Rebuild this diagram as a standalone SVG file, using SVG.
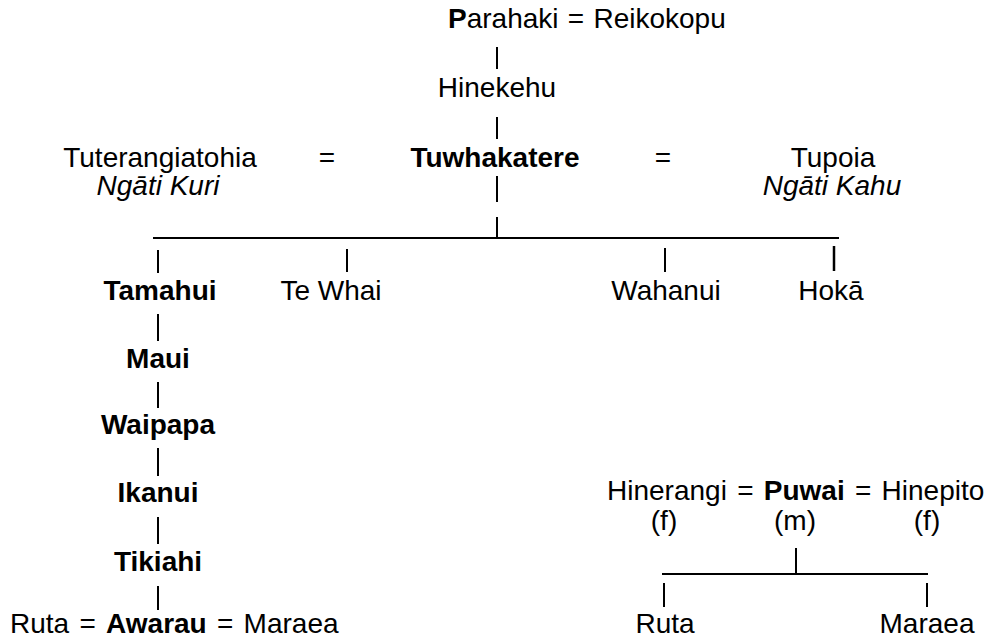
<svg xmlns="http://www.w3.org/2000/svg" width="989" height="641" viewBox="0 0 989 641">
<style>
text{font-family:"Liberation Sans",Arial,sans-serif;font-size:28px;fill:#000}
.m{text-anchor:middle}
.b{font-weight:bold}
.i{font-style:italic}
.w{word-spacing:2.5px}
line{stroke:#000;stroke-width:2}
</style>
<rect width="989" height="641" fill="#fff"/>
<g id="connectors">
<line x1="497" y1="47" x2="497" y2="69"/>
<line x1="497" y1="117" x2="497" y2="139"/>
<line x1="497" y1="176" x2="497" y2="202"/>
<line x1="497" y1="217" x2="497" y2="239"/>
<line x1="153" y1="238" x2="839" y2="238"/>
<line x1="158" y1="250" x2="158" y2="273"/>
<line x1="347" y1="249" x2="347" y2="272"/>
<line x1="665" y1="248" x2="665" y2="272"/>
<line x1="834" y1="246" x2="834" y2="271" style="stroke-width:2.5"/>
<line x1="158" y1="314" x2="158" y2="341"/>
<line x1="158" y1="382" x2="158" y2="408"/>
<line x1="158" y1="448" x2="158" y2="476"/>
<line x1="158" y1="517" x2="158" y2="544"/>
<line x1="158" y1="586" x2="158" y2="610"/>
<line x1="796" y1="548" x2="796" y2="574"/>
<line x1="662" y1="574" x2="928" y2="574"/>
<line x1="664" y1="583" x2="664" y2="607"/>
<line x1="927" y1="583" x2="927" y2="607"/>
</g>
<g id="parahaki"><text class="w" x="448" y="28" style="word-spacing:1.5px"><tspan class="b">P</tspan>arahaki = Reikokopu</text></g>
<g id="hinekehu"><text class="m" x="497" y="97">Hinekehu</text></g>
<g id="tuterangiatohia"><text class="m" x="160" y="167">Tuterangiatohia</text><text class="m i" x="158" y="195">Ngāti Kuri</text></g>
<g id="eq1"><text class="m" x="327" y="167">=</text></g>
<g id="tuwhakatere"><text class="m b" x="495" y="167">Tuwhakatere</text></g>
<g id="eq2"><text class="m" x="663" y="167">=</text></g>
<g id="tupoia"><text class="m" x="833" y="167">Tupoia</text><text class="m i" x="832" y="195">Ngāti Kahu</text></g>
<g id="tamahui"><text class="m b" x="160" y="300">Tamahui</text></g>
<g id="tewhai"><text class="m" x="331" y="300">Te Whai</text></g>
<g id="wahanui"><text class="m" x="666" y="300">Wahanui</text></g>
<g id="hoka"><text class="m" x="831" y="300">Hokā</text></g>
<g id="maui"><text class="m b" x="158" y="368">Maui</text></g>
<g id="waipapa"><text class="m b" x="158" y="434">Waipapa</text></g>
<g id="ikanui"><text class="m b" x="158" y="502">Ikanui</text></g>
<g id="tikiahi"><text class="m b" x="158" y="571">Tikiahi</text></g>
<g id="awarau"><text class="w" x="10" y="633">Ruta = <tspan class="b">Awarau</tspan> = Maraea</text></g>
<g id="puwai"><text class="w" x="607" y="500">Hinerangi = <tspan class="b">Puwai</tspan> = Hinepito</text><text class="m" x="664" y="530">(f)</text><text class="m" x="795" y="530">(m)</text><text class="m" x="927" y="530">(f)</text></g>
<g id="ruta2"><text class="m" x="665" y="633">Ruta</text></g>
<g id="maraea2"><text class="m" x="927" y="633">Maraea</text></g>
</svg>
